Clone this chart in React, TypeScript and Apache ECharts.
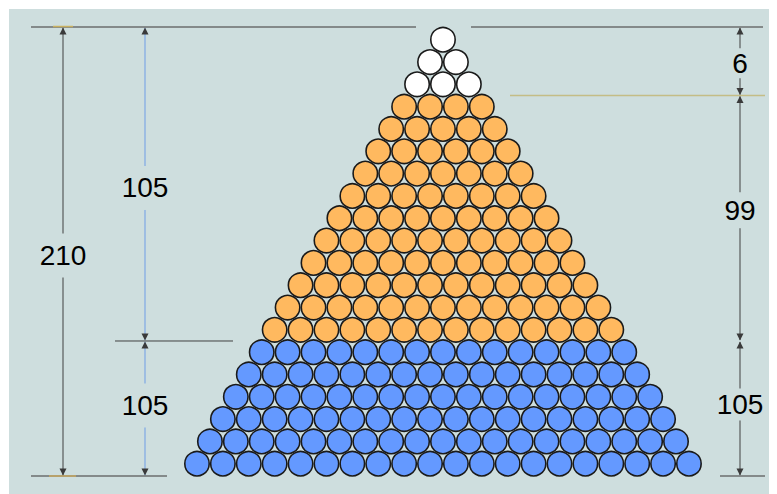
import React, { useEffect, useRef } from "react";
import * as echarts from "echarts";

// Data: number of rows in each colour band (row n holds n balls)
const groupNames = ["top", "middle", "bottom"];
const groupRowCounts = [3, 11, 6];
const rightLabels = ["6", "99", "105"];
const leftLabels = ["105", "105"];
const totalLabel = "210";

// Styles
const BG = "#cedede";
const COLORS = ["#ffffff", "#ffb95f", "#6499ff"];
const FONT = "28px 'Liberation Sans', Arial, sans-serif";

export default function App() {
  const ref = useRef<HTMLDivElement>(null);

  useEffect(() => {
    if (!ref.current) return;
    const chart = echarts.init(ref.current, undefined, { renderer: "svg" });

    let row = 0;
    const series = groupNames.map((name, gi) => {
      const data: number[][] = [];
      for (let i = 0; i < groupRowCounts[gi]; i++) {
        row += 1;
        for (let k = 0; k < row; k++) {
          data.push([k - (row - 1) / 2, row]);
        }
      }
      return {
        name,
        type: "scatter",
        data,
        symbol: "circle",
        symbolSize: 24.4,
        itemStyle: { color: COLORS[gi], borderColor: "#1a1a1a", borderWidth: 1.6, opacity: 1 },
        silent: true,
      };
    });
    const totalRows = row;

    chart.setOption({
      animation: false,
      backgroundColor: BG,
      grid: { left: 0, right: 0, top: 18, bottom: 18 },
      xAxis: { type: "value", min: -16.76, max: 12.9, show: false },
      yAxis: { type: "value", inverse: true, min: 0.43, max: totalRows + 0.55, show: false },
      series,
    });

    // boundaries in data units
    const bounds: number[] = [0.43];
    let acc = 0;
    groupRowCounts.forEach((c, i) => {
      acc += c;
      bounds.push(i === groupRowCounts.length - 1 ? totalRows + 0.55 : acc + 0.5);
    });
    const py = (v: number) => (chart.convertToPixel({ gridIndex: 0 }, [0, v]) as number[])[1];
    const yTop = py(bounds[0]);
    const yB1 = py(bounds[1]);
    const yB2 = py(bounds[2]);
    const yBot = py(bounds[3]);

    const g: any[] = [];
    const line = (x1: number, y1: number, x2: number, y2: number, color: string, w = 1) =>
      g.push({ type: "line", shape: { x1, y1, x2, y2 }, style: { stroke: color, lineWidth: w }, silent: true });
    const arrow = (x: number, yTip: number, dir: number) =>
      g.push({
        type: "polygon",
        shape: { points: [[x, yTip], [x - 3.5, yTip + dir * 7], [x + 3.5, yTip + dir * 7]] },
        style: { fill: "#3a3a3a" },
        silent: true,
      });
    const text = (x: number, y: number, t: string) =>
      g.push({
        type: "text",
        x,
        y,
        style: { text: t, font: FONT, fill: "#000", align: "center", verticalAlign: "middle" },
        silent: true,
      });
    const dim = (x: number, ya: number, yb: number, label: string, off: number, gap: number, color: string) => {
      const ym = (ya + yb) / 2 + off;
      line(x, ya + 1, x, ym - gap, color);
      line(x, ym + gap, x, yb - 1, color);
      arrow(x, ya + 0.5, 1);
      arrow(x, yb - 0.5, -1);
      text(x, ym, label);
    };

    // horizontal reference lines
    line(22, yTop, 407, yTop, "#6b6e6e", 1.5);
    line(462, yTop, 754, yTop, "#6b6e6e", 1.5);
    line(501, yB1, 756, yB1, "#c4bd86", 1.5);
    line(106, yB2, 224, yB2, "#404040", 1);
    line(22, yBot, 158, yBot, "#6b6e6e", 1.5);
    line(711, yBot, 756, yBot, "#6b6e6e", 1.5);
    line(44, yTop - 0.5, 64, yTop - 0.5, "#c8b060", 1.5);
    line(40, yBot, 67, yBot, "#c8a860", 1.5);

    // left dimensions
    dim(54, yTop, yBot, totalLabel, 4, 22, "#404040");
    dim(136, yTop, yB2, leftLabels[0], 4, 22, "#6e9de6");
    dim(136, yB2, yBot, leftLabels[1], -3, 22, "#6e9de6");

    // right dimensions
    dim(731, yTop, yB1, rightLabels[0], 2, 15, "#404040");
    dim(731, yB1, yB2, rightLabels[1], -8, 18, "#404040");
    dim(731, yB2, yBot, rightLabels[2], -4, 16, "#404040");

    chart.setOption({ graphic: g });

    return () => chart.dispose();
  }, []);

  return <div ref={ref} style={{ width: 768, height: 485, marginLeft: 1, marginTop: 1 }} />;
}
